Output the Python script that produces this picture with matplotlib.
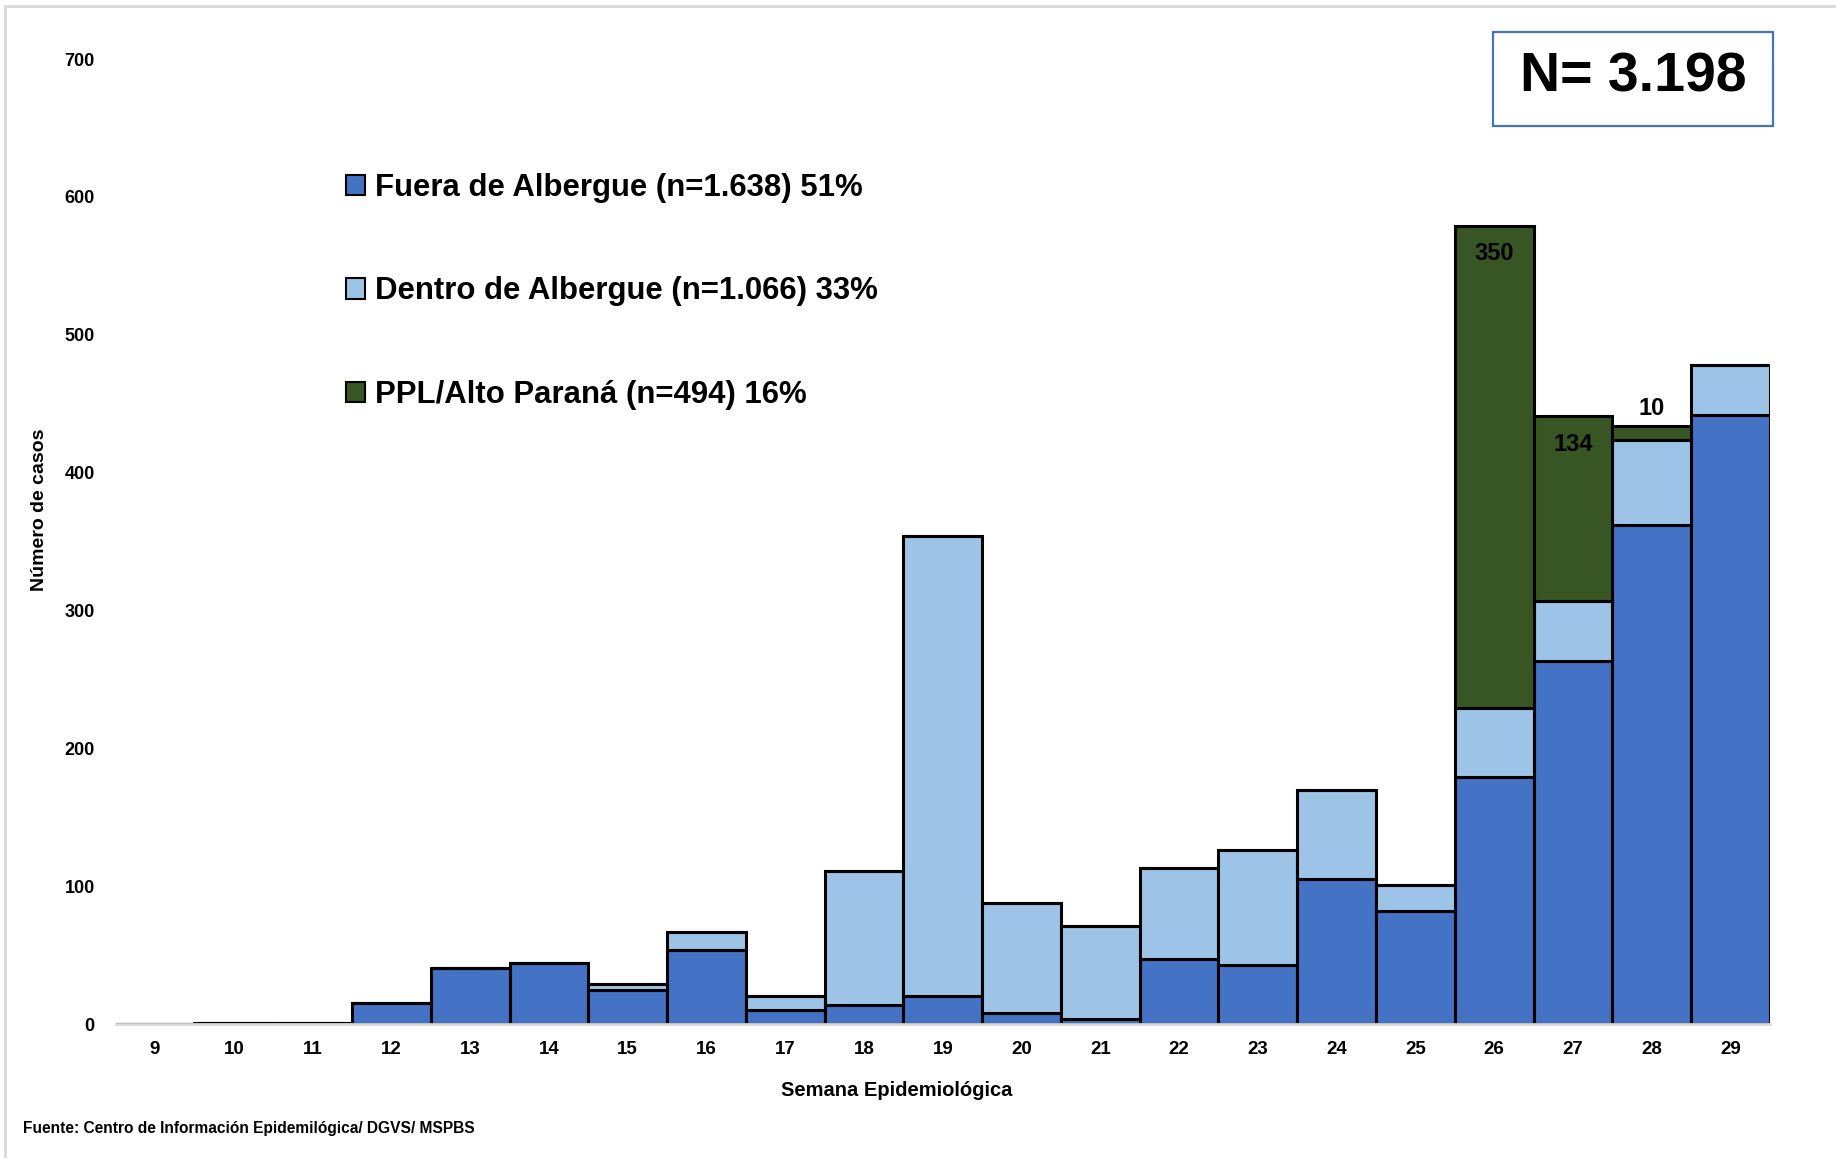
import numpy as np
import matplotlib.pyplot as plt
from matplotlib.patches import Rectangle, Patch

# data
semanas = [9, 10, 11, 12, 13, 14, 15, 16, 17, 18, 19, 20, 21, 22, 23, 24, 25, 26, 27, 28, 29]
fuera = [0, 1, 1, 15, 41, 44, 25, 54, 10, 14, 20, 8, 4, 47, 43, 105, 82, 179, 263, 362, 442]
dentro = [0, 0, 0, 0, 0, 0, 4, 13, 10, 97, 334, 80, 67, 66, 83, 65, 19, 50, 44, 62, 36]
ppl = [0, 0, 0, 0, 0, 0, 0, 0, 0, 0, 0, 0, 0, 0, 0, 0, 0, 350, 134, 10, 0]
etiquetas = ["Fuera de Albergue (n=1.638) 51%",
             "Dentro de Albergue (n=1.066) 33%",
             "PPL/Alto Paraná (n=494) 16%"]
colores = ["#4472C4", "#9DC3E6", "#375623"]

FONT = ["Liberation Sans", "DejaVu Sans"]

x = np.array(semanas)
fuera = np.array(fuera)
dentro = np.array(dentro)
ppl = np.array(ppl)

fig = plt.figure(figsize=(18.36, 11.58), dpi=100)
ax = fig.add_axes([0.063, 0.1157, 0.901, 0.8333])

kw = dict(width=1.0, edgecolor="black", linewidth=2.2)
ax.bar(x, fuera, color=colores[0], **kw)
ax.bar(x, dentro, bottom=fuera, color=colores[1], **kw)
ax.bar(x, ppl, bottom=fuera + dentro, color=colores[2], **kw)

# valores PPL
total = fuera + dentro + ppl
for xi, p, t in zip(x, ppl, total):
    if p >= 100:
        ax.text(xi, t - 12, str(p), ha="center", va="top", fontsize=17,
                fontweight="bold", family=FONT)
    elif p > 0:
        ax.text(xi, t + 4, str(p), ha="center", va="bottom", fontsize=17,
                fontweight="bold", family=FONT)

ax.set_xlim(8.5, 29.5)
ax.set_ylim(0, 700)
ax.set_xticks(x)
ax.set_xticklabels([str(s) for s in semanas], fontsize=13.5, fontweight="bold", family=FONT)
ax.set_yticks(range(0, 701, 100))
ax.set_yticklabels([str(v) for v in range(0, 701, 100)], fontsize=13, fontweight="bold", family=FONT)
ax.tick_params(axis="x", length=0, pad=12)
ax.tick_params(axis="y", length=0, pad=15)
for s in ["top", "right", "left"]:
    ax.spines[s].set_visible(False)
ax.spines["bottom"].set_color("#d9d9d9")
ax.spines["bottom"].set_linewidth(2)

ax.set_xlabel("Semana Epidemiológica", fontsize=14.5, fontweight="bold", family=FONT)
ax.xaxis.set_label_coords(0.472, -0.059)
ax.set_ylabel("Número de casos", fontsize=14, fontweight="bold", family=FONT)
ax.yaxis.set_label_coords(-0.041, 0.533)

handles = [Patch(facecolor=c, edgecolor="black", linewidth=1.5) for c in colores]
leg = ax.legend(handles, etiquetas, loc="upper left", bbox_to_anchor=(0.139, 0.882),
                frameon=False, handlelength=0.63, handleheight=0.63, handletextpad=0.3,
                labelspacing=2.36, borderpad=0, borderaxespad=0,
                prop={"family": FONT, "weight": "bold", "size": 22.4})

# cuadro N
fig.patches.append(Rectangle((1493 / 1836, 1 - 126 / 1158), 280 / 1836, 94 / 1158,
                             transform=fig.transFigure, fill=False,
                             edgecolor="#4472C4", linewidth=1.6))
fig.text(1633 / 1836, 1 - 77 / 1158, "N= 3.198", ha="center", va="center",
         fontsize=40, fontweight="bold", family=FONT)

fig.text(23 / 1836, 1 - 1128 / 1158, "Fuente: Centro de Información Epidemilógica/ DGVS/ MSPBS",
         ha="left", va="center", fontsize=11.2, fontweight="bold", family=FONT)

# marco exterior
fig.patches.append(Rectangle((5 / 1836, -0.02), 1.02, 1.02 - 6 / 1158,
                             transform=fig.transFigure, fill=False,
                             edgecolor="#d9d9d9", linewidth=2))

fig.savefig("out.png", dpi=100)
